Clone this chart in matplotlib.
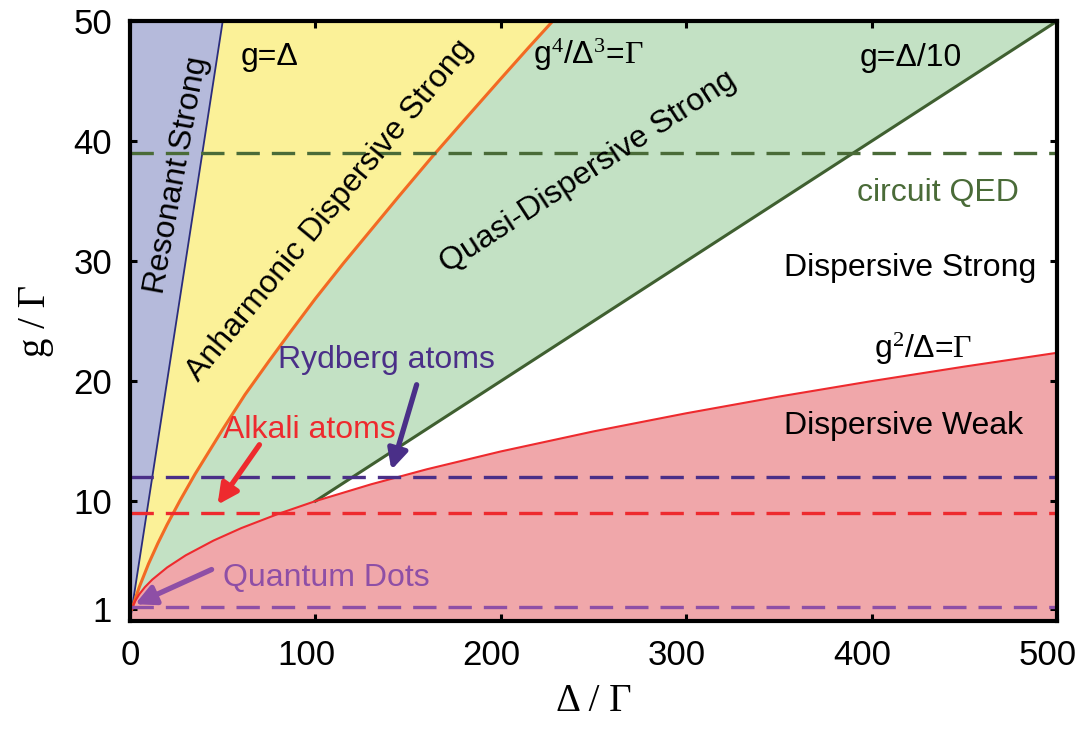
import matplotlib
matplotlib.use("Agg")
import matplotlib.pyplot as plt
from matplotlib.transforms import ScaledTranslation

plt.rcParams['font.family'] = ['Liberation Sans', 'DejaVu Sans']
plt.rcParams['mathtext.fontset'] = 'custom'
plt.rcParams['mathtext.rm'] = 'Liberation Serif'
plt.rcParams['mathtext.it'] = 'Liberation Serif:italic'

# boundary curves (Delta/Gamma, g/Gamma)
resonant_d = [0, 50]
resonant_g = [0, 50]

anharm_d = [1, 3, 5, 10, 15, 20, 27, 35, 50, 62, 75, 87, 100, 115, 130, 145, 163, 180, 200, 215, 228]
anharm_g = [1, 1.94, 2.84, 4.78, 6.48, 8.04, 10.06, 12.23, 15.98, 18.87, 21.68, 24.2, 26.88,
            29.8, 32.6, 35.4, 38.7, 41.7, 45.2, 47.8, 50]

quasi_d = [100, 500]
quasi_g = [10, 50]

weak_d = [1, 2, 3, 5, 8, 12, 20, 30, 45, 60, 80, 100, 130, 160, 200, 250, 300, 350, 400, 450, 500]
weak_g = [1, 1.41, 1.73, 2.24, 2.83, 3.46, 4.47, 5.48, 6.71, 7.75, 8.94, 10, 11.4, 12.65,
          14.14, 15.81, 17.32, 18.71, 20, 21.21, 22.36]

# experimental systems (horizontal dashed lines)
systems = ['circuit QED', 'Rydberg atoms', 'Alkali atoms', 'Quantum Dots']
system_g = [39, 12, 9, 1.2]
system_col = ['#4a6b38', '#4a2f88', '#ee2a2e', '#8e4fa6']

xticks = [0, 100, 200, 300, 400, 500]
yticks = [1, 10, 20, 30, 40, 50]
XMAX, YMAX = 500, 50

fig = plt.figure(figsize=(10.79, 7.29), dpi=100)
ax = fig.add_axes([0.1205, 0.148, 0.8591, 0.823])

# filled regions
ax.fill([0] + resonant_d + [0], [0] + resonant_g + [YMAX], color='#b5badb', lw=0)
ax.fill(resonant_d + anharm_d[::-1], resonant_g + anharm_g[::-1], color='#fbf198', lw=0)
ax.fill(anharm_d + [XMAX] + quasi_d[::-1] + weak_d[:12][::-1],
        anharm_g + [YMAX] + quasi_g[::-1] + weak_g[:12][::-1], color='#c3e1c4', lw=0)
ax.fill([0] + weak_d + [XMAX, 0], [0] + weak_g + [0, 0], color='#f0a7aa', lw=0)

# boundary lines
ax.plot(resonant_d, resonant_g, color='#2b2d7c', lw=1.3)
ax.plot(anharm_d, anharm_g, color='#f26a23', lw=2.2)
ax.plot(quasi_d, quasi_g, color='#3f5f30', lw=2.2)
ax.plot(weak_d, weak_g, color='#ee2a2e', lw=1.5)

for g, c in zip(system_g, system_col):
    ax.plot([0, XMAX], [g, g], color=c, lw=2.4, dashes=(7, 3.6))

fs = 23
ax.text(75, 47, 'g=Δ', fontsize=fs, ha='center', va='center')
ax.text(247, 47.2, 'g$^4$/Δ$^3$=$\\Gamma$', fontsize=fs, ha='center', va='center')
ax.text(421, 46.9, 'g=Δ/10', fontsize=fs, ha='center', va='center')
ax.text(428, 22.7, 'g$^2$/Δ=$\\Gamma$', fontsize=fs, ha='center', va='center')
ax.text(25.2, 37.2, 'Resonant Strong', fontsize=fs, ha='center', va='center',
        rotation=79.6, rotation_mode='anchor')
ax.text(108, 34.2, 'Anharmonic Dispersive Strong', fontsize=fs, ha='center', va='center',
        rotation=50.5, rotation_mode='anchor')
ax.text(247, 37.4, 'Quasi-Dispersive Strong', fontsize=fs, ha='center', va='center',
        rotation=33, rotation_mode='anchor')
ax.text(421, 29.4, 'Dispersive Strong', fontsize=fs, ha='center', va='center')
ax.text(417, 16.3, 'Dispersive Weak', fontsize=fs, ha='center', va='center')

# system labels with arrows
ax.text(436, 35.7, systems[0], fontsize=fs, ha='center', va='center', color=system_col[0])
ax.text(138.5, 21.75, systems[1], fontsize=fs, ha='center', va='center', color=system_col[1])
ax.text(96.6, 15.9, systems[2], fontsize=fs, ha='center', va='center', color=system_col[2])
ax.text(106, 3.6, systems[3], fontsize=fs, ha='center', va='center', color=system_col[3])

arrows = [((141, 12.6), (154.6, 19.7)), ((47.2, 9.7), (69.8, 14.7)), ((2.7, 1.4), (44, 4.3))]
for (head, tail), c in zip(arrows, system_col[1:]):
    ax.annotate('', xy=head, xytext=tail,
                arrowprops=dict(arrowstyle='-|>', color=c, lw=3.8, mutation_scale=30,
                                shrinkA=0, shrinkB=0))

ax.set_xlim(0, XMAX)
ax.set_ylim(0, YMAX)
ax.set_xticks(xticks)
ax.set_yticks(yticks)
ax.tick_params(direction='in', length=5, width=2.2, labelsize=25, top=True, right=True, pad=13)
for s in ax.spines.values():
    s.set_linewidth(3)

# tick labels in the original sit a little left of their ticks
for lab in ax.get_xticklabels()[1:]:
    lab.set_transform(lab.get_transform() + ScaledTranslation(-0.09, 0, fig.dpi_scale_trans))

ax.set_xlabel('Δ / Γ', fontsize=28, family='Liberation Serif', labelpad=8)
ax.set_ylabel('g / Γ', fontsize=28, family='Liberation Serif', labelpad=14)

fig.savefig('out.png', dpi=100)
